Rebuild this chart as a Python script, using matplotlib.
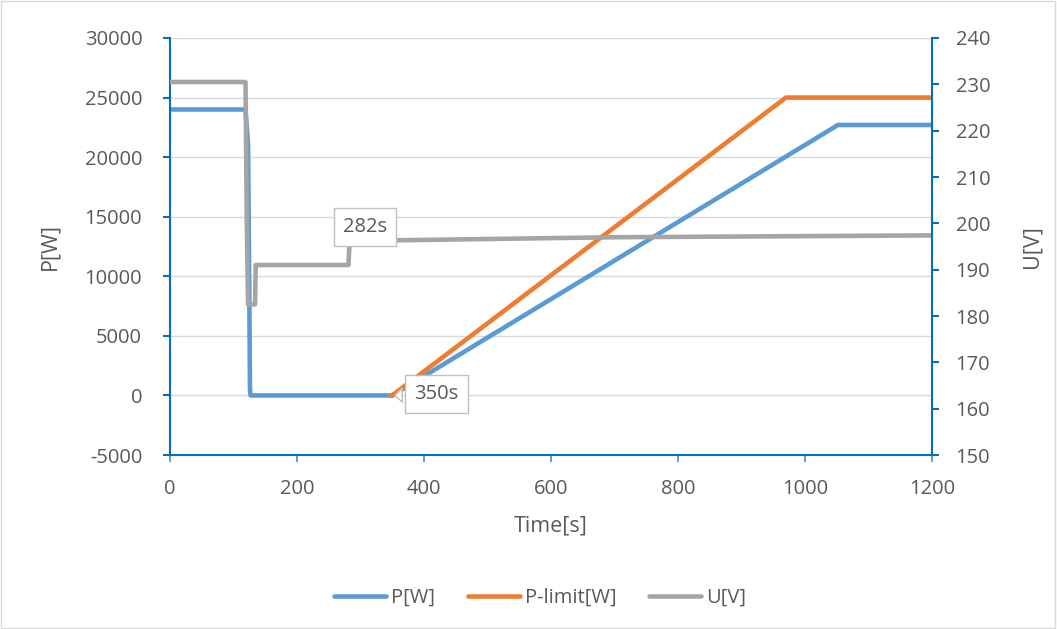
import matplotlib.pyplot as plt

# data
p_time = [0, 119, 123, 125, 126, 127, 350, 1052, 1200]
p_watt = [24000, 24000, 21000, 8000, 500, 0, 0, 22700, 22700]

lim_time = [350, 970, 1200]
lim_watt = [0, 25000, 25000]

u_time = [0, 119, 121, 123, 134, 135, 281, 283, 700, 1200]
u_volt = [230.5, 230.5, 200, 182.5, 182.5, 191, 191, 196.2, 197.0, 197.4]

x_ticks = [0, 200, 400, 600, 800, 1000, 1200]
p_ticks = [-5000, 0, 5000, 10000, 15000, 20000, 25000, 30000]
u_ticks = [150, 160, 170, 180, 190, 200, 210, 220, 230, 240]

plt.rcParams['font.family'] = ['Open Sans', 'DejaVu Sans']
plt.rcParams['axes.unicode_minus'] = False
txt = '#595959'
axc = '#0070C0'
fs = 14.5

fig = plt.figure(figsize=(10.57, 6.29), dpi=100)
fig.patches.append(plt.Rectangle((0.001, 0.001), 0.997, 0.997, transform=fig.transFigure,
                                 fill=False, ec='#D9D9D9', lw=1))
ax = fig.add_axes([0.1608, 0.2766, 0.7209, 0.663])
ax2 = ax.twinx()

l1, = ax.plot(p_time, p_watt, color='#5B9BD5', lw=3.3, label='P[W]', solid_joinstyle='round')
l2, = ax.plot(lim_time, lim_watt, color='#ED7D31', lw=3.3, label='P-limit[W]', solid_joinstyle='round')
l3, = ax2.plot(u_time, u_volt, color='#A5A5A5', lw=3.3, label='U[V]', solid_joinstyle='round')

ax.set_xlim(0, 1200)
ax.set_ylim(-5000, 30000)
ax2.set_ylim(150, 240)
ax.set_xticks(x_ticks)
ax.set_yticks(p_ticks)
ax2.set_yticks(u_ticks)

ax.grid(axis='y', color='#D9D9D9', lw=1)
ax.set_axisbelow(True)
for a in (ax, ax2):
    a.spines['top'].set_visible(False)
ax2.spines['bottom'].set_visible(False)
ax2.spines['left'].set_visible(False)
ax.spines['right'].set_visible(False)
for s in (ax.spines['left'], ax.spines['bottom'], ax2.spines['right']):
    s.set_color(axc)
    s.set_linewidth(1.5)

ax.tick_params(axis='x', length=5, width=1.2, color='#3D8CD0', direction='out', pad=12,
               labelsize=fs, labelcolor=txt)
ax.tick_params(axis='y', length=5, width=1.5, color=axc, direction='out', pad=15,
               labelsize=fs, labelcolor=txt)
ax2.tick_params(axis='y', length=5, width=1.5, color=axc, direction='out', pad=12,
                labelsize=fs, labelcolor=txt)

ax.set_xlabel('Time[s]', fontsize=15.5, color=txt)
ax.set_ylabel('P[W]', fontsize=15.5, color=txt)
ax2.set_ylabel('U[V]', fontsize=15.5, color=txt)
ax.xaxis.set_label_coords(0.5, -0.145)
ax.yaxis.set_label_coords(-0.144, 0.5)
ax2.yaxis.set_label_coords(1.118, 0.5)

box = dict(boxstyle='square,pad=0.45', fc='white', ec='#BFBFBF', lw=1)
arr = dict(arrowstyle='wedge,tail_width=0.7,shrink_factor=0.5', fc='white', ec='#BFBFBF', lw=1)
ax2.annotate('282s', xy=(282, 196.2), xytext=(307, 199.2), fontsize=fs, color=txt,
             ha='center', va='center', bbox=box, arrowprops=arr)
ax.annotate('350s', xy=(350, 0), xytext=(420, 100), fontsize=fs, color=txt,
            ha='center', va='center', bbox=box, arrowprops=arr)

leg = fig.legend(handles=[l1, l2, l3], loc='center', bbox_to_anchor=(0.511, 0.049), ncol=3,
                 frameon=False, fontsize=fs, handlelength=2.6, columnspacing=1.6, handletextpad=0.25)
for t in leg.get_texts():
    t.set_color(txt)
for h in leg.get_lines():
    h.set_solid_capstyle('round')

fig.savefig('out.png', dpi=100)
